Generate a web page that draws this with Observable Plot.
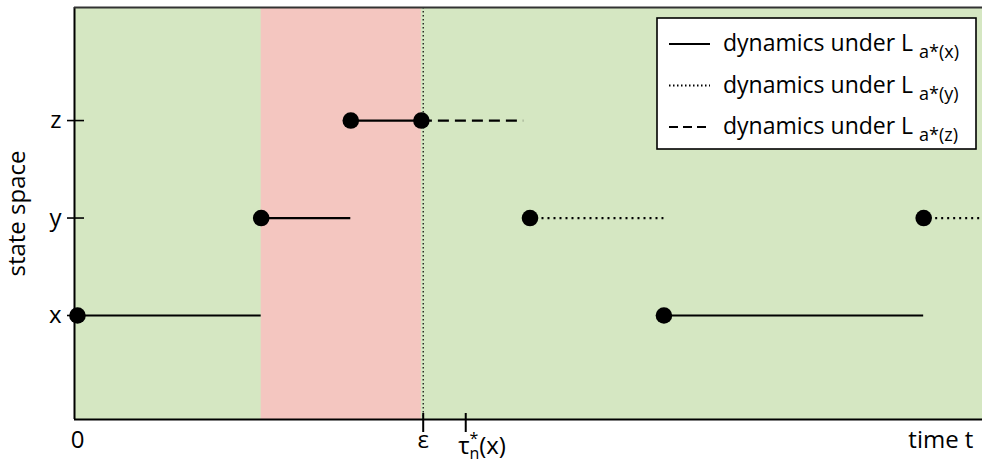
<!DOCTYPE html>
<html>
<head>
<meta charset="utf-8">
<script src="https://cdn.jsdelivr.net/npm/d3@7"></script>
<script src="https://cdn.jsdelivr.net/npm/@observablehq/plot@0.6"></script>
<style>
  body { margin: 0; background: white; }
  svg { display: block; }
</style>
</head>
<body>
<div id="chart"></div>
<script>
// ---- data ----
const stateNames = ["x", "y", "z"];          // state index 1,2,3
const stateValues = [1, 2, 3];
const eps = 3.82;                             // ε
const tau = 4.29;                             // τ*_n(x)
const tEnd = 10;
const redSpan = [2.03, 3.8];                  // shaded interval

// segments: start time, end time, state, dynamics under L_a*(…)
const segStart = [0, 2.03, 3.02, 3.8, 5.0, 6.48, 9.35];
const segEnd   = [2.03, 3.02, 3.8, 4.93, 6.48, 9.35, 10];
const segState = [1, 2, 3, 3, 2, 1, 2];
const segDyn   = ["x", "x", "x", "z", "y", "x", "y"];

const xLabelT = [0, eps, 9.54];
const xLabelText = ["0", "ε", "time t"];
const legendKeys = ["x", "y", "z"];

// ---- styles ----
const green = "#d5e7c2";
const red = "#f4c6c0";
const dashFor = {x: null, y: "2,4", z: "11,6"};
const font = "'Open Sans', 'Noto Sans', sans-serif";

const segments = segStart.map((s, i) => ({from: s, to: segEnd[i], state: segState[i], dyn: segDyn[i]}));
const dots = segments.map(d => ({t: d.from, state: d.state}));
const xLabels = xLabelT.map((t, i) => ({t, label: xLabelText[i]}));

const xDomain = [-0.033, tEnd];
const yDomain = [-0.067, 4.16];

const plot = Plot.plot({
  width: 982,
  height: 464,
  marginLeft: 74,
  marginRight: 0,
  marginTop: 7,
  marginBottom: 45,
  style: {fontFamily: font, fontSize: "24px", background: "white", color: "black"},
  x: {domain: xDomain, axis: null},
  y: {domain: yDomain, axis: null},
  marks: [
    Plot.frame({fill: green, stroke: null}),
    Plot.rect([redSpan], {x1: d => d[0], x2: d => d[1], fill: red}),
    Plot.ruleX([eps], {stroke: "black", strokeWidth: 1.2, strokeDasharray: "1.5,2.5"}),
    Plot.ruleX([xDomain[0]], {stroke: "black", strokeWidth: 2}),
    Plot.ruleY([yDomain[0]], {stroke: "black", strokeWidth: 2}),
    Plot.ruleY([yDomain[1]], {stroke: "#333", strokeWidth: 2}),
    ...legendKeys.map(k => Plot.ruleY(segments.filter(d => d.dyn === k), {
      y: "state", x1: "from", x2: "to", stroke: "black", strokeWidth: 2.2,
      strokeDasharray: dashFor[k]
    })),
    Plot.dot(dots, {x: "t", y: "state", r: 8.3, fill: "black", stroke: null}),
    Plot.axisY(stateValues, {
      tickFormat: d => stateNames[d - 1], tickSize: 17, dx: 10, tickPadding: 6,
      strokeWidth: 1.6, fontSize: 24, label: null
    }),
    Plot.axisX([eps, tau], {
      tickFormat: () => "", tickSize: 19, dy: -6, strokeWidth: 2, label: null
    }),
    Plot.text(xLabels, {x: "t", text: "label", frameAnchor: "bottom", dy: 28, fontSize: 24}),
    Plot.text(["state space"], {frameAnchor: "left", dx: -57, rotate: -90, textAnchor: "middle", fontSize: 24})
  ]
});

document.getElementById("chart").appendChild(plot);

const svg = d3.select(plot);
const xs = plot.scale("x");

// τ*_n(x) label
const tauText = svg.append("text")
  .attr("x", xs.apply(tau) - 7)
  .attr("y", 454)
  .attr("text-anchor", "start")
  .attr("font-family", font)
  .attr("font-size", 24)
  .attr("fill", "black");
tauText.append("tspan").text("τ");
tauText.append("tspan").attr("font-size", 16).attr("dy", -10).text("*");
tauText.append("tspan").attr("font-size", 16).attr("dx", -9).attr("dy", 15).text("n");
tauText.append("tspan").attr("dy", -5).text("(x)");

// legend
const lg = svg.append("g");
lg.append("rect")
  .attr("x", 657).attr("y", 18).attr("width", 319).attr("height", 131)
  .attr("fill", "white").attr("stroke", "black").attr("stroke-width", 1.6);
legendKeys.forEach((k, i) => {
  const cy = 44 + i * 41.5;
  lg.append("line")
    .attr("x1", 669).attr("x2", 710).attr("y1", cy).attr("y2", cy)
    .attr("stroke", "black").attr("stroke-width", 1.8)
    .attr("stroke-dasharray", k === "y" ? "1.5,2.5" : k === "z" ? "9,5" : null);
  const t = lg.append("text")
    .attr("x", 723).attr("y", cy + 7)
    .attr("text-anchor", "start")
    .attr("font-family", font).attr("font-size", 23).attr("fill", "black");
  t.append("tspan").text("dynamics under L");
  t.append("tspan").attr("font-size", 18).attr("dx", 6).attr("dy", 7).text(`a*(${k})`);
});
</script>
</body>
</html>
